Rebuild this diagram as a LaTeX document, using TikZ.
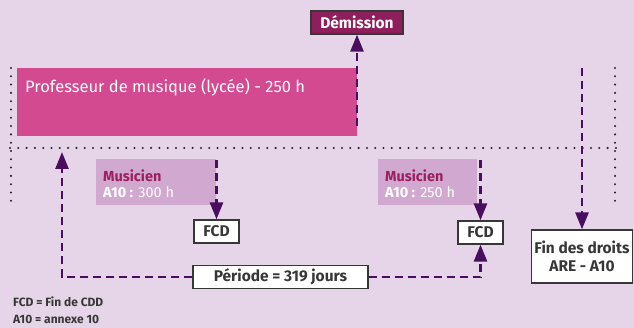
\documentclass[tikz,border=0pt]{standalone}
\usepackage{fontspec}
\setmainfont{Fira Sans}
\usetikzlibrary{arrows.meta, positioning}
\definecolor{fond}{RGB}{230,213,232}
\definecolor{rose}{RGB}{212,74,145}
\definecolor{prune}{RGB}{142,31,92}
\definecolor{mauve}{RGB}{209,168,208}
\definecolor{violet}{RGB}{74,14,94}
\definecolor{titre}{RGB}{155,32,96}
\definecolor{gris}{RGB}{55,55,55}

\tikzset{
  boite/.style={draw=gris, line width=1.3pt, fill=white, inner sep=0pt,
                text=gris, font=\bfseries\fontsize{15.5}{18}\selectfont},
  fleche/.style={violet, line width=2.7pt, dash pattern=on 8pt off 5pt,
                 -{Triangle[width=13pt,length=17pt]}},
  pointille/.style={black!85, line width=2.3pt, line cap=round,
                    dash pattern=on 0pt off 8.3pt}
}

\begin{document}
\begin{tikzpicture}[x=1pt,y=-1pt]
\fill[fond] (0,0) rectangle (634,328);
\useasboundingbox (0,0) rectangle (634,328);

% blocs de fond
\node (prof) [fill=rose, anchor=north west, minimum width=340, minimum height=68, inner sep=0pt] at (17,68) {};
\node (proftxt) [anchor=west, text=white, font=\fontsize{16.5}{20}\selectfont, inner sep=0pt] at (25,87.5) {Professeur de musique (lycée) - 250 h};
\node (mus1) [fill=mauve, anchor=north west, minimum width=120, minimum height=46, inner sep=0pt] at (96,159) {};
\node (mus2) [fill=mauve, anchor=north west, minimum width=99, minimum height=46, inner sep=0pt] at (378,159) {};
\node (mus1txt) [anchor=north west, align=left, inner sep=0pt, font=\fontsize{14.5}{16}\selectfont] at (103,170)
  {\textcolor{titre}{\bfseries Musicien}\\ \textcolor{white}{\bfseries A10 :} \textcolor{white}{300 h}};
\node (mus2txt) [anchor=north west, align=left, inner sep=0pt, font=\fontsize{14.5}{16}\selectfont] at (385,170)
  {\textcolor{titre}{\bfseries Musicien}\\ \textcolor{white}{\bfseries A10 :} \textcolor{white}{250 h}};

% pointilles
\draw[pointille] (10,148) -- (616,148);
\draw[pointille] (11,68) -- (11,204);
\draw[pointille] (615,68) -- (615,204);

% boites
\begin{scope}[every node/.style={boite}]
    \node (dem) [fill=prune, text=white, minimum width=92, minimum height=23] at (357,22.5) {Démission};
    \node (fcd1) [minimum width=45, minimum height=23] at (216.5,231.5) {FCD};
    \node (fcd2) [minimum width=45, minimum height=23] at (480.5,232.5) {FCD};
    \node (periode) [minimum width=175, minimum height=23] at (280.5,277) {Période = 319 jours};
    \node (fin) [minimum width=101, minimum height=53, align=center] at (582,256.5) {Fin des droits\\ARE - A10};
\end{scope}

% fleches
\coordinate (depdem) at (357,126);
\coordinate (depfin) at (582,68);
\coordinate (dep1) at (216.5,160);
\coordinate (dep2) at (480.5,160);
\coordinate (debut) at (62,152);
\begin{scope}[every path/.style={fleche}]
    \path (depdem) edge (dem.south);
    \path (depfin) edge (fin.north);
    \path (dep1) edge (fcd1.north);
    \path (dep2) edge (fcd2.north);
    \draw (periode.west) -| (debut);
    \draw (periode.east) -| (fcd2.south);
\end{scope}

% legende
\node (leg1) [anchor=west, text=gris, font=\bfseries\fontsize{12}{14}\selectfont, inner sep=0pt] at (13,302) {FCD = Fin de CDD};
\node (leg2) [anchor=west, text=gris, font=\bfseries\fontsize{12}{14}\selectfont, inner sep=0pt] at (13,319.5) {A10 = annexe 10};
\end{tikzpicture}
\end{document}
